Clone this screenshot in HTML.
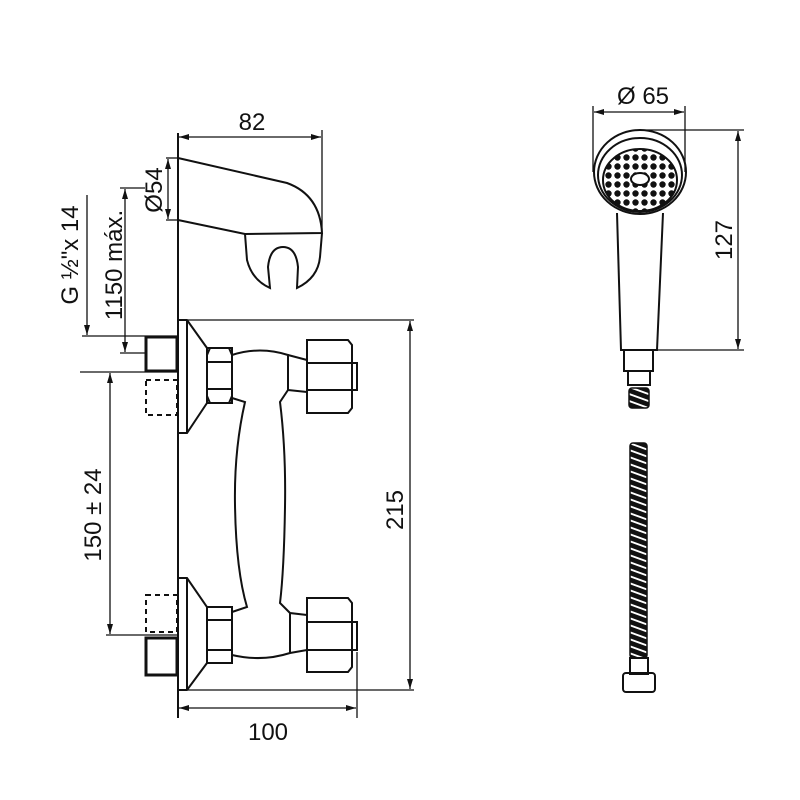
<!DOCTYPE html>
<html><head><meta charset="utf-8"><style>
html,body{margin:0;padding:0;background:#fff}
svg{display:block}
text{font-family:"Liberation Sans",sans-serif;font-size:24px;fill:#111}
</style></head><body>
<svg width="800" height="800" viewBox="0 0 800 800" xmlns="http://www.w3.org/2000/svg">
<defs>
<marker id="a" viewBox="0 0 10 6" refX="10" refY="3" markerWidth="10" markerHeight="6" orient="auto-start-reverse" markerUnits="userSpaceOnUse"><path d="M0,0 L10,3 L0,6 z" fill="#111"/></marker>
<pattern id="hp" width="17" height="7" patternUnits="userSpaceOnUse" patternTransform="skewY(20)">
<rect width="17" height="7" fill="#111"/><rect y="3" width="17" height="2" fill="#fff"/></pattern>
<pattern id="perf" x="640" y="180" width="9" height="9" patternUnits="userSpaceOnUse"><rect width="9" height="9" fill="#fff"/><circle cx="4.5" cy="4.5" r="3.2" fill="#111"/></pattern>
</defs>
<g fill="none" stroke="#111" stroke-width="1.3">
<line x1="178" y1="133" x2="178" y2="718" stroke-width="2"/>
<line x1="322" y1="130" x2="322" y2="232"/>
<line x1="179" y1="137" x2="321" y2="137" marker-start="url(#a)" marker-end="url(#a)"/>
<path d="M178,158 L287,183 Q320,195 322,233 L245,234 L178,220" stroke-width="2"/>
<path d="M245,234 L247,260 Q252,280 270,288 L268,267 Q270,247 283,247 Q296,247 298,267 L297,288 Q318,278 320,257 L322,233" stroke-width="2"/>
<line x1="166" y1="158" x2="178" y2="158"/><line x1="166" y1="220" x2="178" y2="220"/>
<line x1="168" y1="159" x2="168" y2="219" marker-start="url(#a)" marker-end="url(#a)"/>
<line x1="120" y1="188" x2="145" y2="188"/>
<line x1="125" y1="189" x2="125" y2="352" marker-start="url(#a)" marker-end="url(#a)"/>
<line x1="120" y1="353" x2="146" y2="353"/>
<line x1="87" y1="195" x2="87" y2="335" marker-end="url(#a)"/>
<line x1="82" y1="336" x2="178" y2="336"/>
<rect x="146" y="337" width="31" height="34" stroke-width="3"/>
<line x1="80" y1="372" x2="178" y2="372"/>
<rect x="146" y="380" width="31" height="35" stroke-dasharray="5,4" stroke-width="2"/>
<rect x="146" y="595" width="31" height="37" stroke-dasharray="5,4" stroke-width="2"/>
<line x1="106" y1="635" x2="178" y2="635"/>
<rect x="146" y="638" width="31" height="37" stroke-width="3"/>
<line x1="110" y1="373" x2="110" y2="634" marker-start="url(#a)" marker-end="url(#a)"/>
<g stroke-width="2">
<path d="M178,320 L187,320 L207,348 L207,403 L187,433 L178,433"/>
<line x1="187" y1="320" x2="187" y2="433"/>
<path d="M207,348 L232,348 L232,403 L207,403 z"/>
<path d="M210,348 L207,355 L207,396 L210,403 M229,348 L232,355 L232,396 L229,403"/>
<line x1="207" y1="362" x2="232" y2="362"/><line x1="207" y1="389" x2="232" y2="389"/>
<path d="M178,578 L187,578 L207,607 L207,663 L187,690 L178,690"/>
<line x1="187" y1="578" x2="187" y2="690"/>
<path d="M207,607 L232,607 L232,663 L207,663 z"/>
<line x1="207" y1="620" x2="232" y2="620"/><line x1="207" y1="650" x2="232" y2="650"/>
<path d="M232,355 Q260,346 288,355 L288,390 M232,398 L245,402 Q234,450 235,505 Q236,570 247,607 L232,612"/>
<path d="M288,390 L280,402 Q286,450 285,507 Q284,570 280,603 L290,613 L307,615"/>
<path d="M232,655 Q262,662 290,653 L307,650"/>
<line x1="290" y1="613" x2="290" y2="653"/>
<line x1="288" y1="390" x2="307" y2="392"/>
<path d="M288,355 L307,360"/>
<path d="M307,340 L348,340 L352,345 L352,408 L348,413 L307,413 z"/>
<line x1="307" y1="363" x2="352" y2="363"/><line x1="307" y1="390" x2="352" y2="390"/>
<rect x="352" y="363" width="5" height="27"/>
<path d="M307,598 L348,598 L352,603 L352,667 L348,672 L307,672 z"/>
<line x1="307" y1="622" x2="352" y2="622"/><line x1="307" y1="650" x2="352" y2="650"/>
<rect x="352" y="622" width="5" height="28"/>
</g>
<line x1="188" y1="320" x2="414" y2="320"/><line x1="188" y1="690" x2="414" y2="690"/>
<line x1="410" y1="321" x2="410" y2="689" marker-start="url(#a)" marker-end="url(#a)"/>
<line x1="357" y1="652" x2="357" y2="718"/>
<line x1="179" y1="708" x2="356" y2="708" marker-start="url(#a)" marker-end="url(#a)"/>
<line x1="593" y1="106" x2="593" y2="172"/><line x1="685" y1="106" x2="685" y2="172"/>
<line x1="594" y1="112" x2="684" y2="112" marker-start="url(#a)" marker-end="url(#a)"/>
<line x1="640" y1="130" x2="744" y2="130"/><line x1="657" y1="350" x2="744" y2="350"/>
<line x1="738" y1="131" x2="738" y2="349" marker-start="url(#a)" marker-end="url(#a)"/>
<g stroke-width="2">
<ellipse cx="640" cy="172" rx="46" ry="42"/>
<ellipse cx="640" cy="175" rx="42" ry="37"/>
<ellipse cx="640" cy="180" rx="37" ry="31" fill="url(#perf)"/>
<ellipse cx="640" cy="179" rx="9" ry="6" fill="#fff"/>
<path d="M617,213 L621,350 L657,350 L663,213"/>
<rect x="624" y="350" width="29" height="21"/>
<rect x="628" y="371" width="22" height="14"/>
</g>
<rect x="629" y="388" width="20" height="20" rx="3" fill="url(#hp)" stroke-width="1.5"/>
<rect x="630" y="443" width="17" height="215" rx="3" fill="url(#hp)" stroke-width="1.5"/>
<rect x="630" y="658" width="18" height="16" stroke-width="2"/>
<rect x="623" y="673" width="32" height="19" rx="3" stroke-width="2"/>
</g>
<text x="252" y="130" text-anchor="middle">82</text>
<text x="643" y="104" text-anchor="middle">Ø 65</text>
<text x="268" y="740" text-anchor="middle">100</text>
<text transform="translate(162,190) rotate(-90)" text-anchor="middle" font-size="21">Ø54</text>
<text transform="translate(122,265) rotate(-90)" text-anchor="middle">1150 máx.</text>
<text transform="translate(78,255) rotate(-90)" text-anchor="middle">G ½"x 14</text>
<text transform="translate(101,515) rotate(-90)" text-anchor="middle">150 ± 24</text>
<text transform="translate(403,510) rotate(-90)" text-anchor="middle">215</text>
<text transform="translate(732,240) rotate(-90)" text-anchor="middle">127</text>
</svg>
</body></html>
